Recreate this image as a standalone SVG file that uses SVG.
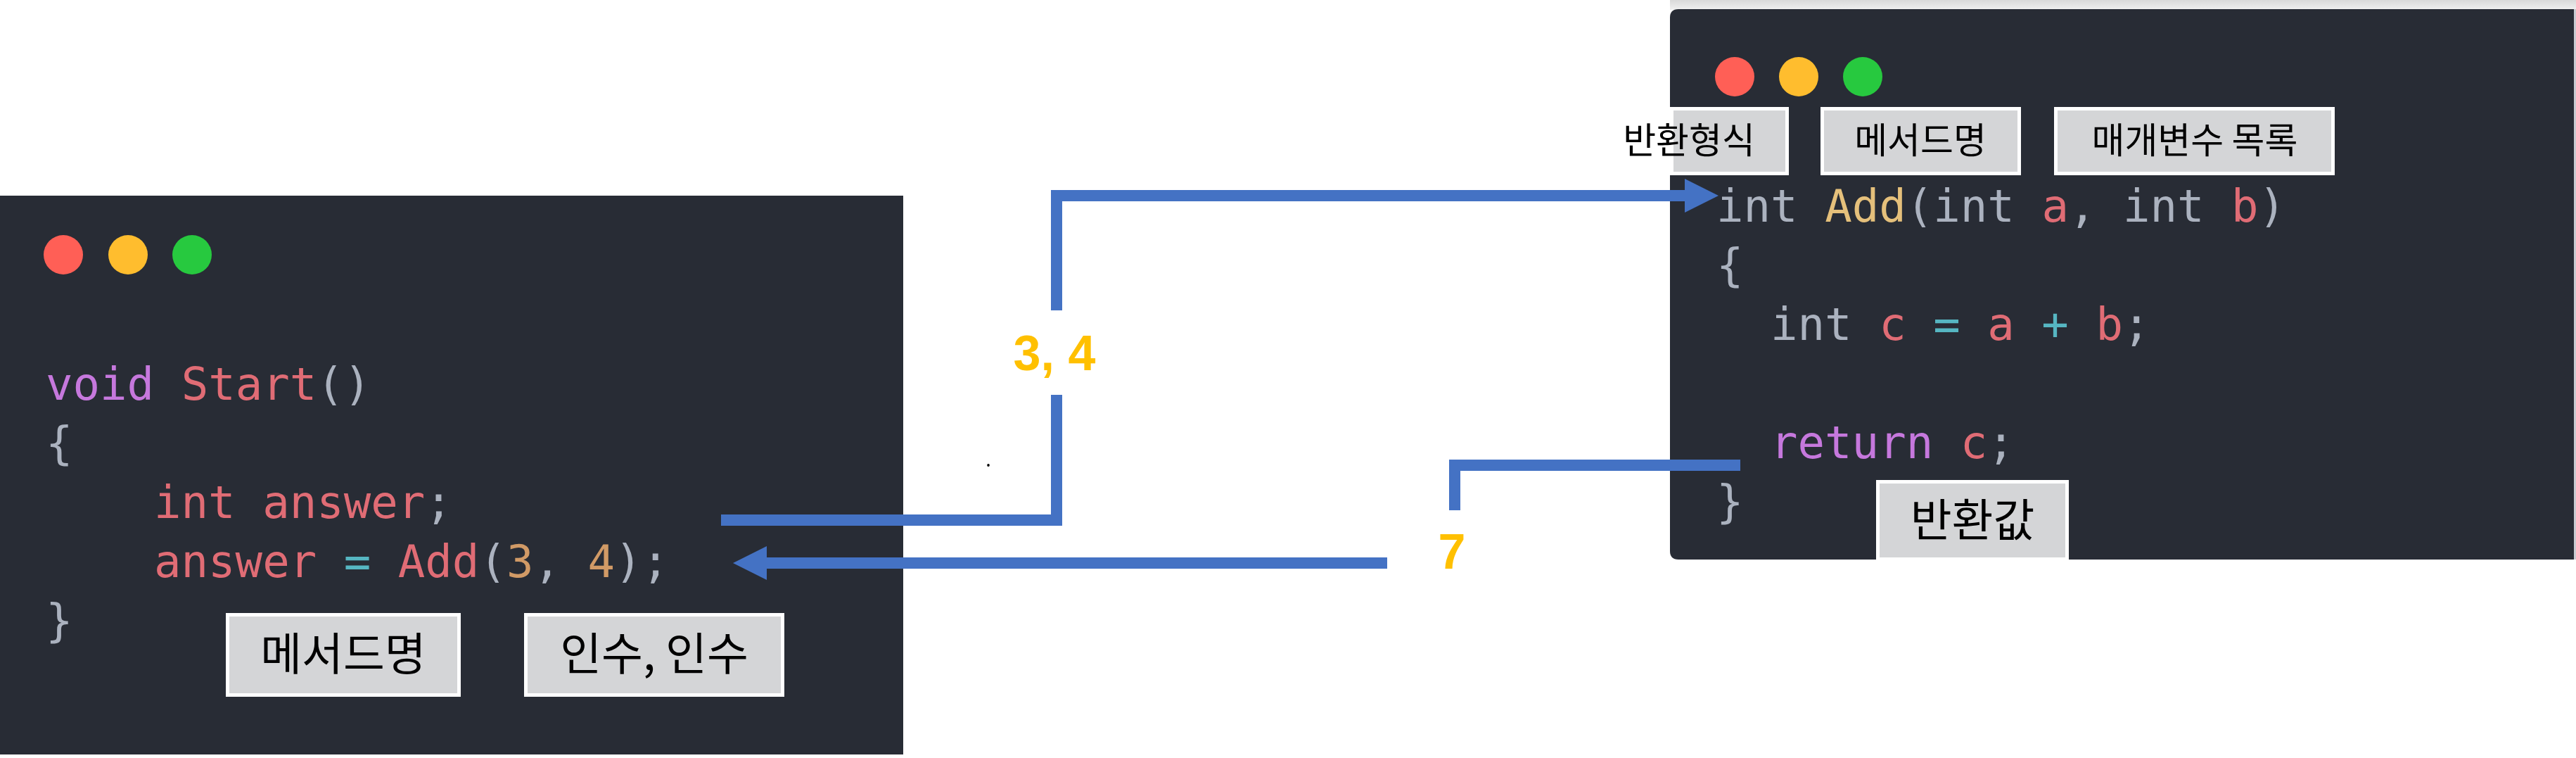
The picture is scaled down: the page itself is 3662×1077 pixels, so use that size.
<svg xmlns="http://www.w3.org/2000/svg" width="3662" height="1077" viewBox="0 0 3662 1077">
  <style>
    .panel { fill: #282c35; }
    .code { font-family: "DejaVu Sans Mono", "Liberation Mono", monospace; font-size: 64px; white-space: pre; }
    .kw { fill: #c678dd; }
    .rd { fill: #e06c75; }
    .gy { fill: #abb2bf; }
    .yl { fill: #e5c07b; }
    .or { fill: #d19a66; }
    .cy { fill: #56b6c2; }
    .lbox { fill: #d4d5d7; stroke: #ffffff; stroke-width: 5; }
    .ltxt { font-family: "Noto Sans CJK KR", "Noto Sans", sans-serif; fill: #000000; text-anchor: middle; white-space: pre; }
    .num { font-family: "Liberation Sans", Arial, sans-serif; font-weight: bold; font-size: 70px; fill: #ffc000; text-anchor: middle; }
    .conn { fill: none; stroke: #4472c4; stroke-width: 16; stroke-linejoin: miter; stroke-linecap: butt; }
  </style>
  <defs>
    <marker id="ah" viewBox="0 0 48 48" markerWidth="48" markerHeight="48" refX="0" refY="24" orient="auto" markerUnits="userSpaceOnUse">
      <path d="M0,0 L48,24 L0,48 z" fill="#4472c4"/>
    </marker>
    <linearGradient id="shade" x1="0" y1="0" x2="0" y2="1">
      <stop offset="0" stop-color="#d9d9d9"/>
      <stop offset="1" stop-color="#f0f0f0"/>
    </linearGradient>
  </defs>

  <rect x="0" y="0" width="3662" height="1077" fill="#ffffff"/>

  <!-- Left window: caller -->
  <g id="caller-window">
    <rect class="panel" x="0" y="278" width="1284" height="794"/>
    <circle cx="90" cy="362" r="28" fill="#ff5f56"/>
    <circle cx="182" cy="362" r="28" fill="#ffbd2e"/>
    <circle cx="273" cy="362" r="28" fill="#27c93f"/>
    <text class="code" x="65" y="568" xml:space="preserve"><tspan class="kw">void</tspan> <tspan class="rd">Start</tspan><tspan class="gy">()</tspan></text>
    <text class="code gy" x="65" y="652">{</text>
    <text class="code rd" x="219" y="736" xml:space="preserve">int answer<tspan class="gy">;</tspan></text>
    <text class="code" x="219" y="820" xml:space="preserve"><tspan class="rd">answer</tspan> <tspan class="cy">=</tspan> <tspan class="rd">Add</tspan><tspan class="gy">(</tspan><tspan class="or">3</tspan><tspan class="gy">, </tspan><tspan class="or">4</tspan><tspan class="gy">);</tspan></text>
    <text class="code gy" x="65" y="904">}</text>
  </g>

  <g id="label-caller-method">
    <rect class="lbox" x="323.5" y="873.5" width="329" height="114"/>
    <text class="ltxt" x="488" y="952" font-size="64">메서드명</text>
  </g>
  <g id="label-arguments">
    <rect class="lbox" x="747.5" y="873.5" width="365" height="114"/>
    <text class="ltxt" x="930" y="952" font-size="64">인수, 인수</text>
  </g>

  <!-- Right window: method definition -->
  <g id="method-window">
    <rect x="2374" y="0" width="1288" height="14" fill="url(#shade)"/>
    <path class="panel" d="M2386,13 H3659 V795 H2386 Q2374,795 2374,783 V25 Q2374,13 2386,13 Z"/>
    <rect x="3659" y="13" width="3" height="782" fill="#c8cbd1"/>
    <circle cx="2466" cy="109" r="28" fill="#ff5f56"/>
    <circle cx="2557" cy="109" r="28" fill="#ffbd2e"/>
    <circle cx="2648" cy="109" r="28" fill="#27c93f"/>
    <text class="code" x="2440" y="315" xml:space="preserve"><tspan class="gy">int</tspan> <tspan class="yl">Add</tspan><tspan class="gy">(int </tspan><tspan class="rd">a</tspan><tspan class="gy">, int </tspan><tspan class="rd">b</tspan><tspan class="gy">)</tspan></text>
    <text class="code gy" x="2440" y="399">{</text>
    <text class="code" x="2517" y="483" xml:space="preserve"><tspan class="gy">int</tspan> <tspan class="rd">c</tspan> <tspan class="cy">=</tspan> <tspan class="rd">a</tspan> <tspan class="cy">+</tspan> <tspan class="rd">b</tspan><tspan class="gy">;</tspan></text>
    <text class="code" x="2517" y="651" xml:space="preserve"><tspan class="kw">return</tspan> <tspan class="rd">c</tspan><tspan class="gy">;</tspan></text>
    <text class="code gy" x="2440" y="735">}</text>
  </g>

  <g id="label-return-type">
    <rect class="lbox" x="2376.5" y="154.5" width="164" height="92"/>
    <text class="ltxt" x="2401" y="218" font-size="51">반환형식</text>
  </g>
  <g id="label-method-name">
    <rect class="lbox" x="2590.5" y="154.5" width="280" height="92"/>
    <text class="ltxt" x="2730" y="218" font-size="51">메서드명</text>
  </g>
  <g id="label-parameters">
    <rect class="lbox" x="2922.5" y="154.5" width="394" height="92"/>
    <text class="ltxt" x="3120" y="218" font-size="51">매개변수 목록</text>
  </g>
  <g id="label-return-value">
    <rect class="lbox" x="2669.5" y="684.5" width="269" height="110"/>
    <text class="ltxt" x="2804" y="762" font-size="64">반환값</text>
  </g>

  <!-- Connectors -->
  <g id="connectors">
    <path class="conn" d="M1025,739 H1502 V561"/>
    <path class="conn" d="M1502,441 V278 H2395" marker-end="url(#ah)"/>
    <text class="num" x="1499" y="526">3, 4</text>
    <path class="conn" d="M2474,661 H2068 V725"/>
    <path class="conn" d="M1972,800 H1090" marker-end="url(#ah)"/>
    <text class="num" x="2064" y="808">7</text>
  </g>

  <ellipse cx="1405" cy="661" rx="1.8" ry="2" fill="#000000"/>
</svg>
